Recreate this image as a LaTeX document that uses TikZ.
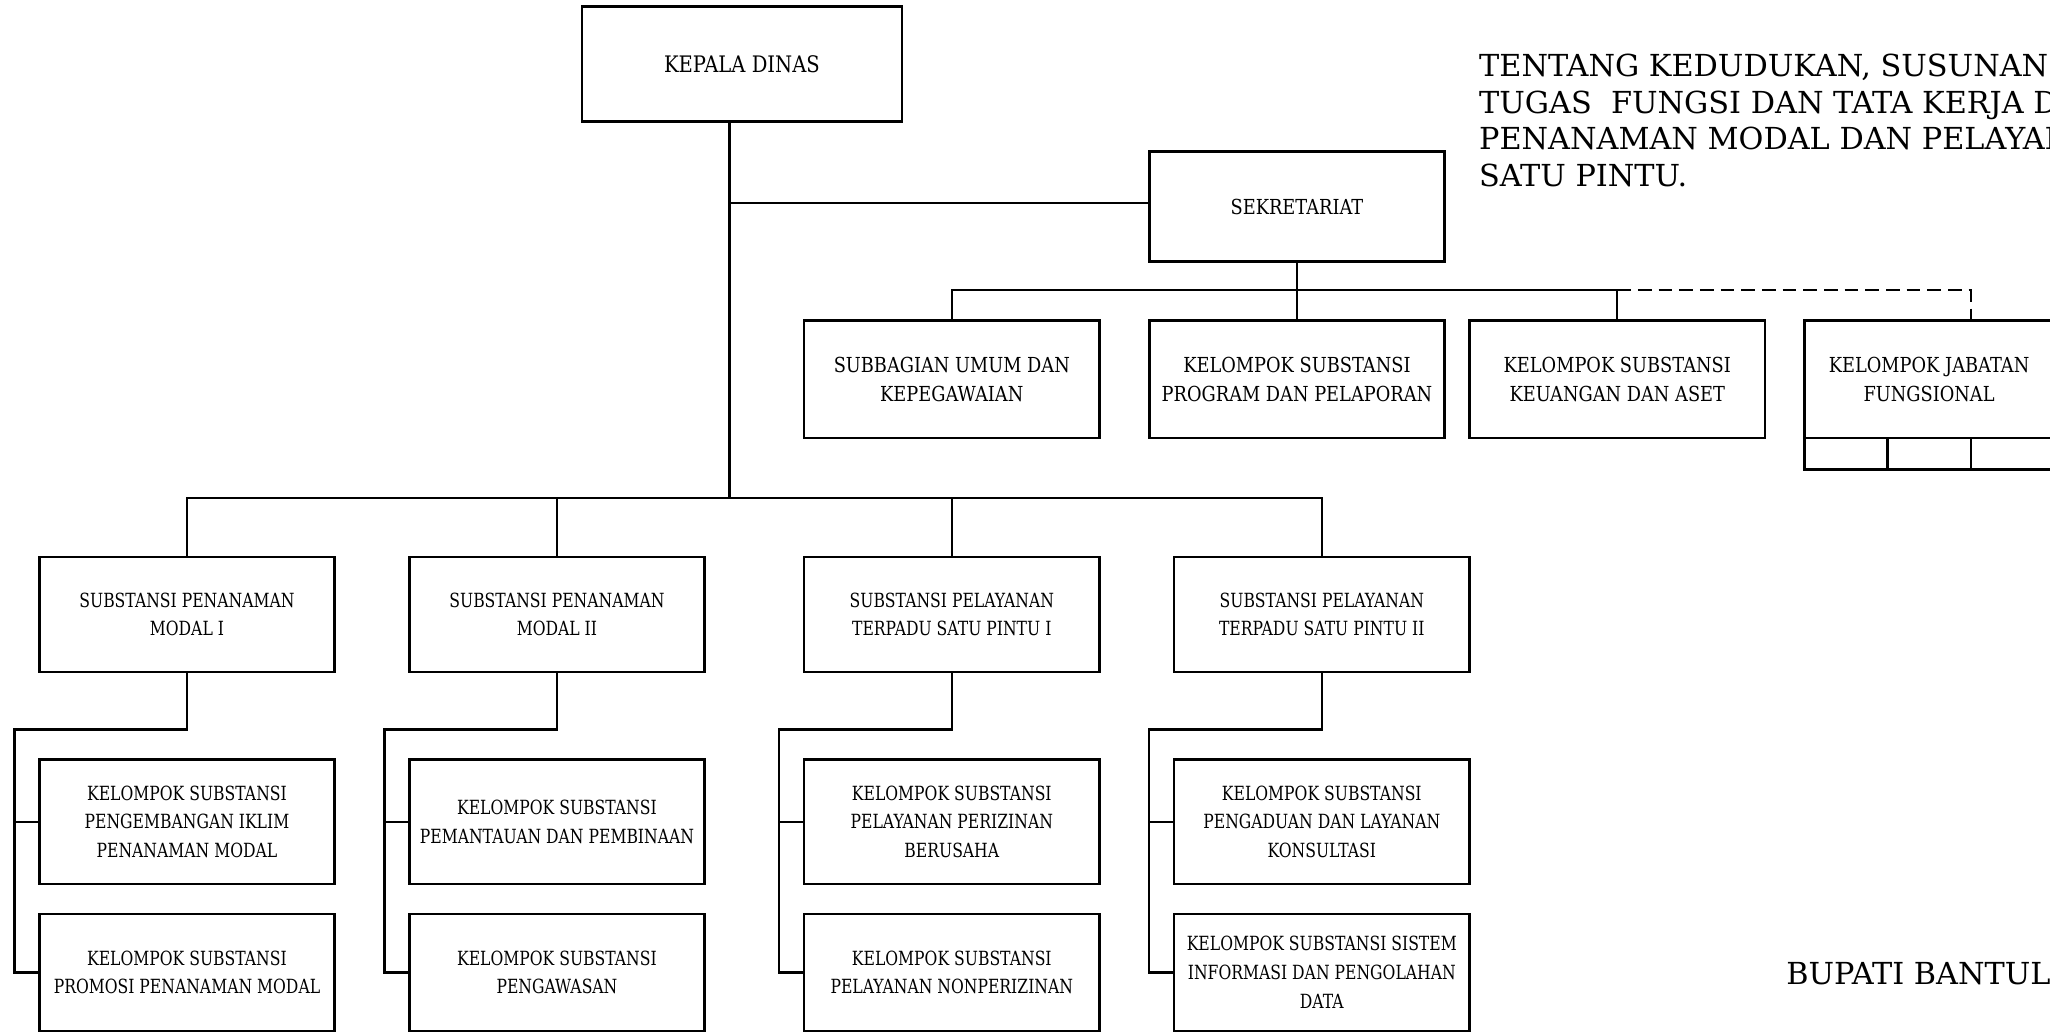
\documentclass[tikz,border=0pt]{standalone}
\usepackage{fontspec}
\setmainfont{DejaVu Serif}
\newfontfamily\bfa[FakeStretch=0.8]{DejaVu Serif}
\newfontfamily\bfb[FakeStretch=0.86]{DejaVu Serif}
\usetikzlibrary{calc}
\begin{document}
\begin{tikzpicture}[x=0.02cm,y=-0.02cm,
  box/.style={draw, line width=1.1pt, inner sep=0pt, outer sep=0pt, align=center},
  small/.style={box, font=\bfa\fontsize{8.5}{12.5}\selectfont, minimum width=4.52cm},
  big/.style={box, font=\bfb\fontsize{9}{12.5}\selectfont, minimum width=4.52cm},
  con/.style={line width=1pt},
  plain/.style={font=\fontsize{13.2}{15.9}\selectfont, inner sep=0pt, align=left}]
\useasboundingbox (0,0) rectangle (1568,789);

% top
\node[big, font=\bfb\fontsize{9.9}{12.5}\selectfont, minimum width=4.9cm, minimum height=1.76cm] (kepala) at (567.5,49) {KEPALA DINAS};
\node[big, minimum height=1.68cm] (sek) at (992,158) {SEKRETARIAT};

% level 2
\node[big, minimum height=1.8cm] (subb) at (728,290) {SUBBAGIAN UMUM DAN\\KEPEGAWAIAN};
\node[big, minimum height=1.8cm] (prog) at (992,290) {KELOMPOK SUBSTANSI\\PROGRAM DAN PELAPORAN};
\node[big, minimum height=1.8cm] (keu) at (1237,290) {KELOMPOK SUBSTANSI\\KEUANGAN DAN ASET};
\node[big, minimum width=3.82cm, minimum height=1.8cm] (fung) at (1475.5,290) {KELOMPOK JABATAN\\FUNGSIONAL};
\draw[line width=1.1pt] (fung.south west) rectangle ++(191,24);
\draw[line width=1.1pt] ($(fung.south west)+(63.5,0)$) -- ++(0,24);
\draw[line width=1.1pt] ($(fung.south west)+(127.5,0)$) -- ++(0,24);

% level 3
\node[small, minimum height=1.76cm] (s1) at (143,470) {SUBSTANSI PENANAMAN\\MODAL I};
\node[small, minimum height=1.76cm] (s2) at (426,470) {SUBSTANSI PENANAMAN\\MODAL II};
\node[small, minimum height=1.76cm] (s3) at (728,470) {SUBSTANSI PELAYANAN\\TERPADU SATU PINTU I};
\node[small, minimum height=1.76cm] (s4) at (1011,470) {SUBSTANSI PELAYANAN\\TERPADU SATU PINTU II};

% level 4 row A
\node[small, minimum height=1.9cm] (a1) at (143,628.5) {KELOMPOK SUBSTANSI\\PENGEMBANGAN IKLIM\\PENANAMAN MODAL};
\node[small, minimum height=1.9cm] (a2) at (426,628.5) {KELOMPOK SUBSTANSI\\PEMANTAUAN DAN PEMBINAAN};
\node[small, minimum height=1.9cm] (a3) at (728,628.5) {KELOMPOK SUBSTANSI\\PELAYANAN PERIZINAN\\BERUSAHA};
\node[small, minimum height=1.9cm] (a4) at (1011,628.5) {KELOMPOK SUBSTANSI\\PENGADUAN DAN LAYANAN\\KONSULTASI};

% level 4 row B
\node[small, minimum height=1.79cm] (b1) at (143,743.75) {KELOMPOK SUBSTANSI\\PROMOSI PENANAMAN MODAL};
\node[small, minimum height=1.79cm] (b2) at (426,743.75) {KELOMPOK SUBSTANSI\\PENGAWASAN};
\node[small, minimum height=1.79cm] (b3) at (728,743.75) {KELOMPOK SUBSTANSI\\PELAYANAN NONPERIZINAN};
\node[small, minimum height=1.79cm] (b4) at (1011,743.75) {KELOMPOK SUBSTANSI SISTEM\\INFORMASI DAN PENGOLAHAN\\DATA};

% texts
\node[plain, anchor=west] (title) at (1131,92) {TENTANG KEDUDUKAN, SUSUNAN\\TUGAS\ \ FUNGSI DAN TATA KERJA DINAS\\PENANAMAN MODAL DAN PELAYANAN\\SATU PINTU.};
\node[plain, anchor=west] (bupati) at (1366,745) {BUPATI BANTUL};

% connectors
\coordinate (trunk) at (558,381);
\coordinate (bus2) at (0,222);
\coordinate (fd) at (1507.5,245);
\coordinate (sekin) at ($(sek.west)+(0,-3)$);
\draw[con] (trunk |- kepala.south) -- (trunk);
\draw[con] (trunk |- sekin) -- (sekin);
\draw[con] (sek.south) -- (sek.south |- bus2);
\draw[con] (subb.north) |- (keu.north |- bus2) -- (keu.north);
\draw[con] (prog.north) -- (prog.north |- bus2);
\draw[con, dashed, dash pattern=on 6pt off 3pt] (keu.north |- bus2) -| (fd);

\draw[con] (s1.north) |- (s4.north |- trunk) -- (s4.north);
\draw[con] (s2.north) -- (s2.north |- trunk);
\draw[con] (s3.north) -- (s3.north |- trunk);

\coordinate (c1) at (11,558);
\coordinate (c2) at (294,558);
\coordinate (c3) at (596,558);
\coordinate (c4) at (879,558);
\draw[con] (s1.south) |- (c1) |- (b1.west);
\draw[con] (c1 |- a1.west) -- (a1.west);
\draw[con] (s2.south) |- (c2) |- (b2.west);
\draw[con] (c2 |- a2.west) -- (a2.west);
\draw[con] (s3.south) |- (c3) |- (b3.west);
\draw[con] (c3 |- a3.west) -- (a3.west);
\draw[con] (s4.south) |- (c4) |- (b4.west);
\draw[con] (c4 |- a4.west) -- (a4.west);
\end{tikzpicture}
\end{document}
